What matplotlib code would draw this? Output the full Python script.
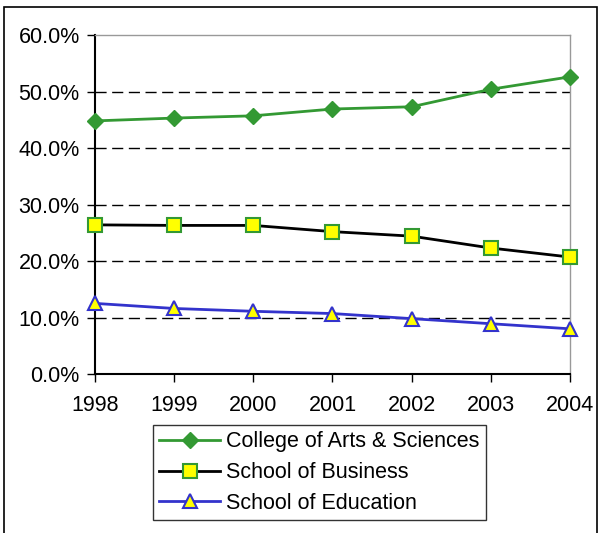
import matplotlib.pyplot as plt
from matplotlib.patches import Rectangle
from matplotlib.ticker import FuncFormatter

plt.rcParams['font.family'] = ['Liberation Sans', 'DejaVu Sans']

years = ['1998', '1999', '2000', '2001', '2002', '2003', '2004']
arts = [44.8, 45.3, 45.7, 46.9, 47.3, 50.4, 52.6]
business = [26.4, 26.3, 26.3, 25.2, 24.4, 22.3, 20.7]
education = [12.5, 11.6, 11.1, 10.7, 9.8, 8.9, 8.0]

fig = plt.figure(figsize=(6, 5.33), dpi=100)
ax = fig.add_axes([0.1583, 0.2983, 0.7917, 0.636])

x = range(len(years))
ax.plot(x, arts, color='#339933', lw=2, marker='D', ms=8, clip_on=False,
        mfc='#339933', mec='#339933', label='College of Arts & Sciences', zorder=5)
ax.plot(x, business, color='black', lw=2, marker='s', ms=10, clip_on=False,
        mfc='#ffff00', mec='#339933', mew=1.5, label='School of Business', zorder=5)
ax.plot(x, education, color='#3333cc', lw=2, marker='^', ms=10, clip_on=False,
        mfc='#ffff00', mec='#3333cc', mew=1.5, label='School of Education', zorder=5)

ax.set_xlim(0, len(years) - 1)
ax.set_ylim(0, 60)
ax.set_xticks(list(x))
ax.set_xticklabels(years)
ax.set_yticks(range(0, 61, 10))
ax.yaxis.set_major_formatter(FuncFormatter(lambda v, p: f'{v:.1f}%'))
ax.tick_params(labelsize=15.5, length=6, width=1, color='black')
ax.tick_params(axis='x', pad=9)
ax.tick_params(axis='y', pad=5)

# dashed gridlines
for v in range(10, 60, 10):
    ax.axhline(v, color='black', lw=1, ls=(0, (8, 4)), zorder=1)

for s in ['top', 'right']:
    ax.spines[s].set_color('#999999')
    ax.spines[s].set_linewidth(1)
for s in ['left', 'bottom']:
    ax.spines[s].set_color('black')
    ax.spines[s].set_linewidth(1.5)

leg = fig.legend(loc='lower left', bbox_to_anchor=(0.255, 0.024, 0.555, 0.178),
                 mode='expand', fontsize=15.5, frameon=True, fancybox=False,
                 edgecolor='black', handlelength=2.8, handletextpad=0.3,
                 borderaxespad=0, labelspacing=0.45, borderpad=0.3)
leg.get_frame().set_linewidth(1)

fig.patches.append(Rectangle((0.007, -0.02), 0.988, 1.007, transform=fig.transFigure,
                             fill=False, edgecolor='black', lw=1.2))

fig.savefig('out.png', dpi=100, facecolor='white')
